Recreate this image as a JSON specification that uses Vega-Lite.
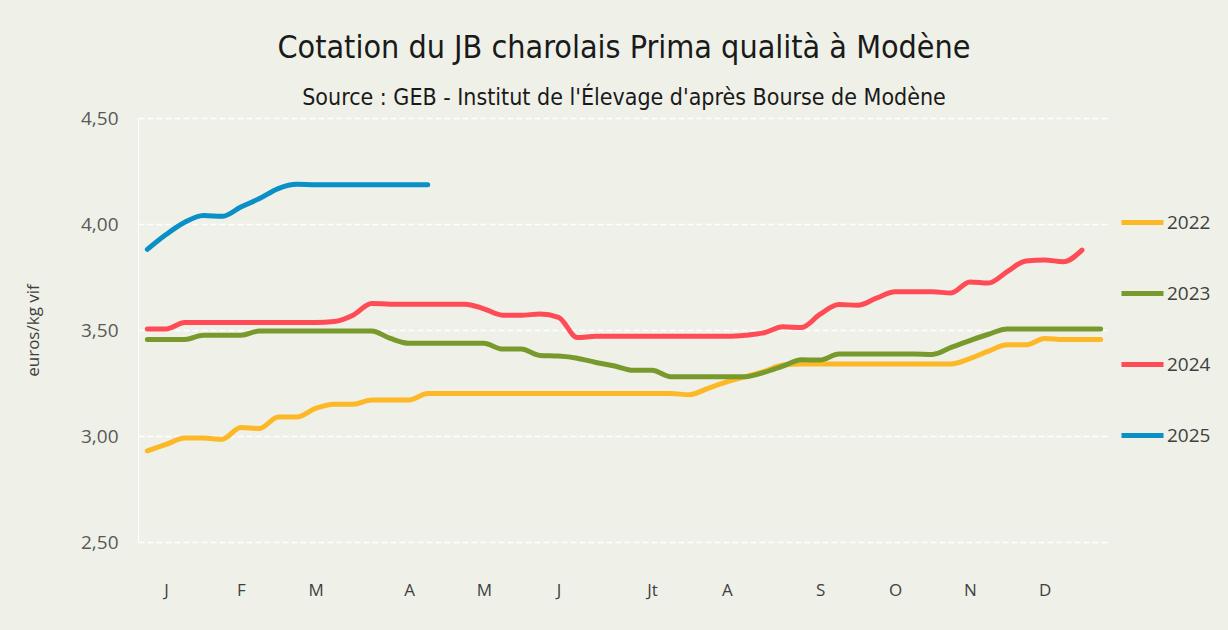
{
  "$schema": "https://vega.github.io/schema/vega-lite/v6.json",
  "width": 972,
  "height": 424,
  "autosize": "none",
  "padding": {"left": 138, "top": 118, "right": 118, "bottom": 88},
  "background": "#eff1e8",
  "config": {
    "view": {"stroke": null},
    "font": "Lato"
  },
  "title": {
    "text": "Cotation du JB charolais Prima qualità à Modène",
    "subtitle": "Source : GEB - Institut de l'Élevage d'après Bourse de Modène",
    "anchor": "middle",
    "frame": "group",
    "font": "DejaVu Sans Condensed, Roboto",
    "fontSize": 32,
    "fontWeight": "normal",
    "color": "#1a1a1a",
    "subtitleFont": "DejaVu Sans Condensed, Roboto",
    "subtitleFontSize": 23,
    "subtitleColor": "#1a1a1a",
    "subtitlePadding": 22,
    "offset": -2
  },
  "datasets": {
    "d": [
      {"year": "2022", "week": 1, "value": 2.93},
      {"year": "2022", "week": 2, "value": 2.96},
      {"year": "2022", "week": 3, "value": 2.99},
      {"year": "2022", "week": 4, "value": 2.99},
      {"year": "2022", "week": 5, "value": 2.985},
      {"year": "2022", "week": 6, "value": 3.04},
      {"year": "2022", "week": 7, "value": 3.035},
      {"year": "2022", "week": 8, "value": 3.09},
      {"year": "2022", "week": 9, "value": 3.09},
      {"year": "2022", "week": 10, "value": 3.13},
      {"year": "2022", "week": 11, "value": 3.15},
      {"year": "2022", "week": 12, "value": 3.15},
      {"year": "2022", "week": 13, "value": 3.17},
      {"year": "2022", "week": 14, "value": 3.17},
      {"year": "2022", "week": 15, "value": 3.17},
      {"year": "2022", "week": 16, "value": 3.2},
      {"year": "2022", "week": 17, "value": 3.2},
      {"year": "2022", "week": 18, "value": 3.2},
      {"year": "2022", "week": 19, "value": 3.2},
      {"year": "2022", "week": 20, "value": 3.2},
      {"year": "2022", "week": 21, "value": 3.2},
      {"year": "2022", "week": 22, "value": 3.2},
      {"year": "2022", "week": 23, "value": 3.2},
      {"year": "2022", "week": 24, "value": 3.2},
      {"year": "2022", "week": 25, "value": 3.2},
      {"year": "2022", "week": 26, "value": 3.2},
      {"year": "2022", "week": 27, "value": 3.2},
      {"year": "2022", "week": 28, "value": 3.2},
      {"year": "2022", "week": 29, "value": 3.2},
      {"year": "2022", "week": 30, "value": 3.195},
      {"year": "2022", "week": 31, "value": 3.225},
      {"year": "2022", "week": 32, "value": 3.255},
      {"year": "2022", "week": 33, "value": 3.28},
      {"year": "2022", "week": 34, "value": 3.305},
      {"year": "2022", "week": 35, "value": 3.335},
      {"year": "2022", "week": 36, "value": 3.34},
      {"year": "2022", "week": 37, "value": 3.34},
      {"year": "2022", "week": 38, "value": 3.34},
      {"year": "2022", "week": 39, "value": 3.34},
      {"year": "2022", "week": 40, "value": 3.34},
      {"year": "2022", "week": 41, "value": 3.34},
      {"year": "2022", "week": 42, "value": 3.34},
      {"year": "2022", "week": 43, "value": 3.34},
      {"year": "2022", "week": 44, "value": 3.34},
      {"year": "2022", "week": 45, "value": 3.365},
      {"year": "2022", "week": 46, "value": 3.4},
      {"year": "2022", "week": 47, "value": 3.43},
      {"year": "2022", "week": 48, "value": 3.43},
      {"year": "2022", "week": 49, "value": 3.46},
      {"year": "2022", "week": 50, "value": 3.455},
      {"year": "2022", "week": 51, "value": 3.455},
      {"year": "2022", "week": 52, "value": 3.455},

      {"year": "2023", "week": 1, "value": 3.455},
      {"year": "2023", "week": 2, "value": 3.455},
      {"year": "2023", "week": 3, "value": 3.455},
      {"year": "2023", "week": 4, "value": 3.475},
      {"year": "2023", "week": 5, "value": 3.475},
      {"year": "2023", "week": 6, "value": 3.475},
      {"year": "2023", "week": 7, "value": 3.495},
      {"year": "2023", "week": 8, "value": 3.495},
      {"year": "2023", "week": 9, "value": 3.495},
      {"year": "2023", "week": 10, "value": 3.495},
      {"year": "2023", "week": 11, "value": 3.495},
      {"year": "2023", "week": 12, "value": 3.495},
      {"year": "2023", "week": 13, "value": 3.495},
      {"year": "2023", "week": 14, "value": 3.46},
      {"year": "2023", "week": 15, "value": 3.437},
      {"year": "2023", "week": 16, "value": 3.437},
      {"year": "2023", "week": 17, "value": 3.437},
      {"year": "2023", "week": 18, "value": 3.437},
      {"year": "2023", "week": 19, "value": 3.437},
      {"year": "2023", "week": 20, "value": 3.41},
      {"year": "2023", "week": 21, "value": 3.41},
      {"year": "2023", "week": 22, "value": 3.38},
      {"year": "2023", "week": 23, "value": 3.377},
      {"year": "2023", "week": 24, "value": 3.367},
      {"year": "2023", "week": 25, "value": 3.347},
      {"year": "2023", "week": 26, "value": 3.33},
      {"year": "2023", "week": 27, "value": 3.31},
      {"year": "2023", "week": 28, "value": 3.31},
      {"year": "2023", "week": 29, "value": 3.28},
      {"year": "2023", "week": 30, "value": 3.28},
      {"year": "2023", "week": 31, "value": 3.28},
      {"year": "2023", "week": 32, "value": 3.28},
      {"year": "2023", "week": 33, "value": 3.28},
      {"year": "2023", "week": 34, "value": 3.3},
      {"year": "2023", "week": 35, "value": 3.33},
      {"year": "2023", "week": 36, "value": 3.36},
      {"year": "2023", "week": 37, "value": 3.358},
      {"year": "2023", "week": 38, "value": 3.387},
      {"year": "2023", "week": 39, "value": 3.387},
      {"year": "2023", "week": 40, "value": 3.387},
      {"year": "2023", "week": 41, "value": 3.387},
      {"year": "2023", "week": 42, "value": 3.387},
      {"year": "2023", "week": 43, "value": 3.385},
      {"year": "2023", "week": 44, "value": 3.418},
      {"year": "2023", "week": 45, "value": 3.45},
      {"year": "2023", "week": 46, "value": 3.48},
      {"year": "2023", "week": 47, "value": 3.505},
      {"year": "2023", "week": 48, "value": 3.505},
      {"year": "2023", "week": 49, "value": 3.505},
      {"year": "2023", "week": 50, "value": 3.505},
      {"year": "2023", "week": 51, "value": 3.505},
      {"year": "2023", "week": 52, "value": 3.505},

      {"year": "2024", "week": 1, "value": 3.505},
      {"year": "2024", "week": 2, "value": 3.505},
      {"year": "2024", "week": 3, "value": 3.535},
      {"year": "2024", "week": 4, "value": 3.535},
      {"year": "2024", "week": 5, "value": 3.535},
      {"year": "2024", "week": 6, "value": 3.535},
      {"year": "2024", "week": 7, "value": 3.535},
      {"year": "2024", "week": 8, "value": 3.535},
      {"year": "2024", "week": 9, "value": 3.535},
      {"year": "2024", "week": 10, "value": 3.535},
      {"year": "2024", "week": 11, "value": 3.54},
      {"year": "2024", "week": 12, "value": 3.57},
      {"year": "2024", "week": 13, "value": 3.625},
      {"year": "2024", "week": 14, "value": 3.622},
      {"year": "2024", "week": 15, "value": 3.622},
      {"year": "2024", "week": 16, "value": 3.622},
      {"year": "2024", "week": 17, "value": 3.622},
      {"year": "2024", "week": 18, "value": 3.622},
      {"year": "2024", "week": 19, "value": 3.6},
      {"year": "2024", "week": 20, "value": 3.57},
      {"year": "2024", "week": 21, "value": 3.57},
      {"year": "2024", "week": 22, "value": 3.575},
      {"year": "2024", "week": 23, "value": 3.56},
      {"year": "2024", "week": 24, "value": 3.465},
      {"year": "2024", "week": 25, "value": 3.47},
      {"year": "2024", "week": 26, "value": 3.47},
      {"year": "2024", "week": 27, "value": 3.47},
      {"year": "2024", "week": 28, "value": 3.47},
      {"year": "2024", "week": 29, "value": 3.47},
      {"year": "2024", "week": 30, "value": 3.47},
      {"year": "2024", "week": 31, "value": 3.47},
      {"year": "2024", "week": 32, "value": 3.47},
      {"year": "2024", "week": 33, "value": 3.475},
      {"year": "2024", "week": 34, "value": 3.487},
      {"year": "2024", "week": 35, "value": 3.515},
      {"year": "2024", "week": 36, "value": 3.512},
      {"year": "2024", "week": 37, "value": 3.575},
      {"year": "2024", "week": 38, "value": 3.62},
      {"year": "2024", "week": 39, "value": 3.617},
      {"year": "2024", "week": 40, "value": 3.65},
      {"year": "2024", "week": 41, "value": 3.68},
      {"year": "2024", "week": 42, "value": 3.68},
      {"year": "2024", "week": 43, "value": 3.68},
      {"year": "2024", "week": 44, "value": 3.675},
      {"year": "2024", "week": 45, "value": 3.727},
      {"year": "2024", "week": 46, "value": 3.722},
      {"year": "2024", "week": 47, "value": 3.775},
      {"year": "2024", "week": 48, "value": 3.826},
      {"year": "2024", "week": 49, "value": 3.83},
      {"year": "2024", "week": 50, "value": 3.822},
      {"year": "2024", "week": 51, "value": 3.877},

      {"year": "2025", "week": 1, "value": 3.88},
      {"year": "2025", "week": 2, "value": 3.95},
      {"year": "2025", "week": 3, "value": 4.008},
      {"year": "2025", "week": 4, "value": 4.04},
      {"year": "2025", "week": 5, "value": 4.036},
      {"year": "2025", "week": 6, "value": 4.08},
      {"year": "2025", "week": 7, "value": 4.12},
      {"year": "2025", "week": 8, "value": 4.167},
      {"year": "2025", "week": 9, "value": 4.187},
      {"year": "2025", "week": 10, "value": 4.185},
      {"year": "2025", "week": 11, "value": 4.185},
      {"year": "2025", "week": 12, "value": 4.185},
      {"year": "2025", "week": 13, "value": 4.185},
      {"year": "2025", "week": 14, "value": 4.185},
      {"year": "2025", "week": 15, "value": 4.185},
      {"year": "2025", "week": 16, "value": 4.185}
    ]
  },
  "data": {"name": "d"},
  "mark": {"type": "line", "strokeWidth": 5, "strokeCap": "round", "strokeJoin": "round", "interpolate": "monotone"},
  "encoding": {
    "x": {
      "field": "week",
      "type": "quantitative",
      "scale": {"domain": [0.5, 52.5], "nice": false, "zero": false},
      "axis": {
        "title": null,
        "values": [2, 6, 10, 15, 19, 23, 28, 32, 37, 41, 45, 49],
        "labelExpr": "['J','F','M','A','M','J','Jt','A','S','O','N','D'][indexof([2,6,10,15,19,23,28,32,37,41,45,49], datum.value)]",
        "grid": false,
        "ticks": false,
        "domain": false,
        "labelPadding": 40,
        "labelFontSize": 17,
        "labelColor": "#404040",
        "labelFont": "Open Sans"
      }
    },
    "y": {
      "field": "value",
      "type": "quantitative",
      "scale": {"domain": [2.5, 4.5], "nice": false, "zero": false},
      "axis": {
        "title": "euros/kg vif",
        "titleFontSize": 17,
        "titleFontWeight": "normal",
        "titleColor": "#404040",
        "titleFont": "Open Sans",
        "titlePadding": 38,
        "values": [2.5, 3, 3.5, 4, 4.5],
        "labelExpr": "replace(format(datum.value, '.2f'), '.', ',')",
        "labelFontSize": 19,
        "labelColor": "#595959",
        "labelFont": "Open Sans",
        "labelPadding": 20,
        "ticks": false,
        "domain": true,
        "domainColor": "#ffffff",
        "domainWidth": 1,
        "grid": true,
        "gridColor": "#ffffff",
        "gridWidth": 1.5,
        "gridDash": [6, 3]
      }
    },
    "color": {
      "field": "year",
      "type": "nominal",
      "scale": {
        "domain": ["2022", "2023", "2024", "2025"],
        "range": ["#fdb827", "#789a2d", "#ff4b55", "#0a8fc6"]
      },
      "legend": {
        "title": null,
        "orient": "none",
        "legendX": 981,
        "legendY": 81,
        "symbolType": "stroke",
        "symbolSize": 1764,
        "symbolStrokeWidth": 5,
        "labelFontSize": 19,
        "labelColor": "#404040",
        "labelFont": "Open Sans",
        "labelOffset": 1,
        "rowPadding": 37,
        "padding": 0
      }
    }
  }
}
